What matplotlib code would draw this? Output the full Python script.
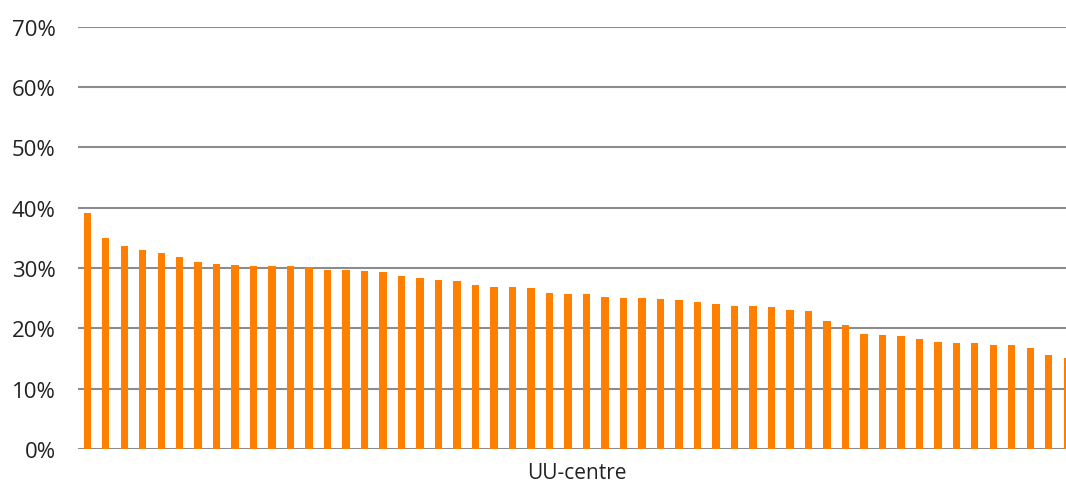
import numpy as np
import matplotlib.pyplot as plt
from matplotlib.ticker import FuncFormatter

# share per UU-centre, sorted descending
values = [39.1, 34.9, 33.6, 32.9, 32.5, 31.8, 31.0, 30.6, 30.5, 30.3,
          30.3, 30.3, 30.2, 29.7, 29.6, 29.5, 29.4, 28.7, 28.3, 28.0,
          27.8, 27.1, 26.9, 26.8, 26.6, 25.9, 25.7, 25.7, 25.2, 25.0,
          25.0, 24.8, 24.7, 24.3, 24.1, 23.7, 23.7, 23.6, 23.0, 22.9,
          21.2, 20.5, 19.1, 18.9, 18.7, 18.2, 17.7, 17.5, 17.5, 17.3,
          17.2, 16.7, 15.5, 15.1]
y_ticks = [0, 10, 20, 30, 40, 50, 60, 70]
x_label = "UU-centre"

plt.rcParams['font.family'] = ['Open Sans', 'DejaVu Sans']

fig = plt.figure(figsize=(10.66, 4.85), dpi=100)
# right edge runs past the figure so the last bar is cut, as in the reference
ax = fig.add_axes([78 / 1066, 35 / 485, 998.5 / 1066, 422.5 / 485])

x = np.arange(len(values))
ax.bar(x, values, width=0.4, color="#FF8000", zorder=3)

ax.set_xlim(-0.5, len(values) - 0.5)
ax.set_ylim(0, 70)
ax.set_yticks(y_ticks)
ax.yaxis.set_major_formatter(FuncFormatter(lambda v, p: "%d%%" % v))
ax.set_xticks([])

ax.grid(axis="y", color="#8c8c8c", linewidth=1.5, zorder=0)
for s in ax.spines.values():
    s.set_visible(False)
ax.tick_params(axis="y", length=0, pad=16, labelsize=16, labelcolor="#222222")

# label placed in figure coords, centred under the plotted categories
fig.text(577 / 1066, 0.023, x_label, fontsize=15, color="#222222",
         ha="center", va="center")

fig.savefig("out.png", dpi=100)
